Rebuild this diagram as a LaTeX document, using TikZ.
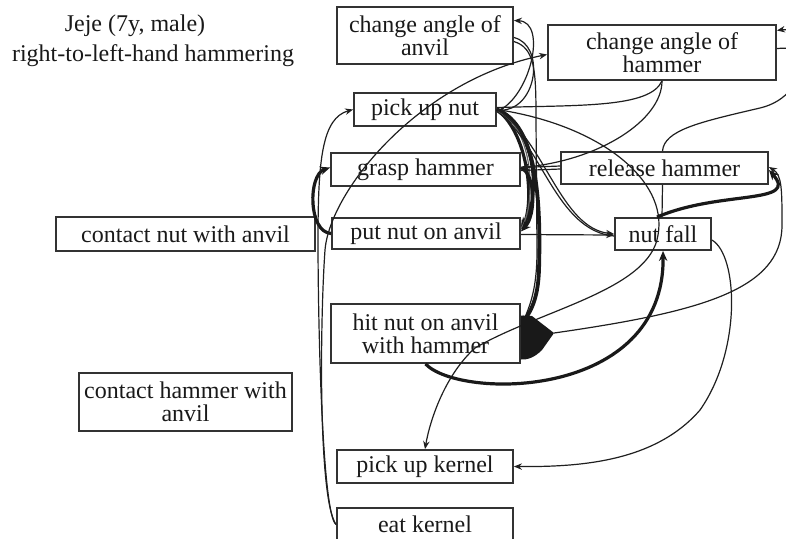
\documentclass[tikz,border=0pt]{standalone}
\usepackage{fontspec}
\setmainfont{Liberation Serif}
\usetikzlibrary{arrows.meta}
\begin{document}
\begin{tikzpicture}[x=0.5pt, y=-0.5pt,
  box/.style={draw=black!80, line width=0.9pt, inner sep=0pt, align=center,
              font=\fontsize{12}{11.5}\selectfont, text=black!90},
  link/.style={line width=0.6pt, draw=black!88, -{Stealth[length=4pt,width=3.2pt]}},
  bold link/.style={line width=1.6pt, draw=black!90, -{Stealth[length=5pt,width=4.2pt]}},
  plain/.style={line width=0.6pt, draw=black!88},
  title/.style={font=\fontsize{12}{15}\selectfont, text=black!90, anchor=base, inner sep=0pt}]
\useasboundingbox (0,0) rectangle (786,538);

% heading
\node[title] (t1) at (135,31) {Jeje (7y, male)};
\node[title] (t2) at (153,61) {right-to-left-hand hammering};

% action boxes
\node[box, minimum width=88pt,    minimum height=28.5pt] (anvilA) at (425,35.5)   {change angle of\\anvil};
\node[box, minimum width=114pt,   minimum height=27.5pt] (hamA)   at (662,52.5)   {change angle of\\hammer};
\node[box, minimum width=71pt,    minimum height=16.5pt] (pun)    at (425,109.5)  {pick up nut};
\node[box, minimum width=94.5pt,  minimum height=16.5pt] (gh)     at (425.5,169.5){grasp hammer};
\node[box, minimum width=103.5pt, minimum height=16pt]   (rh)     at (664.5,168)  {release hammer};
\node[box, minimum width=94pt,    minimum height=15.5pt] (pna)    at (426,233.5)  {put nut on anvil};
\node[box, minimum width=129.5pt, minimum height=17pt]   (cna)    at (185.5,234)  {contact nut with anvil};
\node[box, minimum width=48pt,    minimum height=16pt]   (nf)     at (663,234)    {nut fall};
\node[box, minimum width=94.5pt,  minimum height=29.5pt] (hit)    at (425.5,333.5){hit nut on anvil\\with hammer};
\node[box, minimum width=106.5pt, minimum height=29pt]   (cha)    at (185.5,402)  {contact hammer with\\anvil};
\node[box, minimum width=88pt,    minimum height=16.5pt] (puk)    at (425,466.5)  {pick up kernel};
\node[box, minimum width=88pt,    minimum height=16.5pt] (eat)    at (425,524.5)  {eat kernel};

\coordinate (blobtip) at (554,333);

% loop between pick up nut and change angle of anvil
\draw[link] ([yshift=-1pt]pun.east) .. controls (530,98) and (548,22) .. ([yshift=7.5pt]anvilA.east);
\draw[link] ([yshift=-1pt]anvilA.east) .. controls (545,45) and (538,108) .. ([yshift=-0.5pt]pun.east);
\draw[link] ([yshift=-3pt]anvilA.east) .. controls (535,48) and (536,70) .. (536,120)
   -- (537,250) .. controls (537,290) and (530,305) .. ([yshift=3pt]hit.east);

% heavy strokes out of pick up nut
\draw[bold link, line width=1.9pt] (pun.east) .. controls (537,125) and (541,200) .. (539,270)
   .. controls (538,300) and (530,312) .. ([yshift=4pt]hit.east);
\draw[bold link] (pun.east) .. controls (538,130) and (540,200) .. ([yshift=3pt]pna.east);
\draw[bold link] (pun.east) .. controls (530,135) and (534,205) .. ([yshift=2pt]pna.east);
\draw[plain, black!60] ([yshift=-1pt]pun.east) .. controls (534,125) and (537,205) .. ([yshift=2.5pt]pna.east);

% grasp hammer to put nut on anvil
\draw[bold link] ([yshift=1pt]gh.east) .. controls (536,175) and (536,215) .. ([yshift=1pt]pna.east);

% pick up nut to nut fall (double stroke)
\draw[link] (pun.east) .. controls (545,140) and (560,228) .. (nf.west);
\draw[plain] ([yshift=-1pt]pun.east) .. controls (541,142) and (556,231) .. ([yshift=-1pt]nf.west);
\draw[link] ([yshift=-0.5pt]pna.east) -- ([yshift=-0.5pt]nf.west);

% release hammer to grasp hammer (double stroke)
\draw[link] ([yshift=1pt]rh.west) -- ([yshift=1pt]gh.east);
\draw[plain] ([yshift=-0.5pt]rh.west) -- ([yshift=-0.5pt]gh.east);

% change angle of hammer strokes
\draw[link] (hamA.south) .. controls (662,120) and (600,160) .. ([yshift=1pt]gh.east);
\draw[plain] ([yshift=1pt]pun.east) .. controls (580,105) and (650,108) .. (hamA.south);

% long stroke from pick up nut to pick up kernel
\draw[link] (pun.east) .. controls (600,125) and (668,180) .. (658,235)
   .. controls (650,290) and (540,310) .. (475,348)
   .. controls (445,375) and (430,420) .. (puk.north);

% hit nut on anvil to nut fall
\draw[bold link] (hit.south) .. controls (460,400) and (665,400) .. (nf.south);

% nut fall to pick up kernel
\draw[link] ([yshift=-3pt]nf.east) .. controls (738,255) and (742,350) .. (700,410)
   .. controls (655,462) and (580,467) .. (puk.east);

% nut fall to release hammer
\draw[bold link] ([xshift=-3pt]nf.north) .. controls (720,190) and (800,205) .. ([yshift=-1pt]rh.east);
\draw[plain] ([xshift=-0.5pt]nf.north) -- ([xshift=-1pt]rh.south);

% hit nut on anvil to release hammer
\fill[black!90] ([yshift=9pt]hit.east) -- (532,316) -- (blobtip) -- (542,350)
   .. controls (535,357) and (528,360) .. ([yshift=-13pt]hit.east) -- cycle;
\draw[link] (blobtip) .. controls (700,312) and (782,290) .. (782,225)
   .. controls (782,190) and (782,175) .. ([yshift=0.5pt]rh.east);

% release hammer to change angle of hammer, round the right side
\draw[link] ([xshift=-1pt]rh.north) .. controls (664,130) and (700,122) .. (760,108)
   .. controls (815,95) and (810,25) .. ([yshift=11pt]hamA.east);
\draw[plain] ([yshift=2pt]hamA.east) .. controls (800,47) and (820,50) .. (840,70);

% put nut on anvil back to grasp hammer
\draw[bold link] (pna.west) .. controls (308,232) and (308,175) .. ([yshift=1pt]gh.west);

% eat kernel back up the left side
\draw[link] (eat.west) .. controls (322,515) and (318,320) .. (318,240)
   .. controls (318,160) and (322,118) .. (pun.west);
\draw[link] (eat.west) .. controls (318,500) and (320,320) .. (325,250)
   .. controls (330,190) and (420,80) .. ([yshift=-1pt]hamA.west);
\end{tikzpicture}
\end{document}
